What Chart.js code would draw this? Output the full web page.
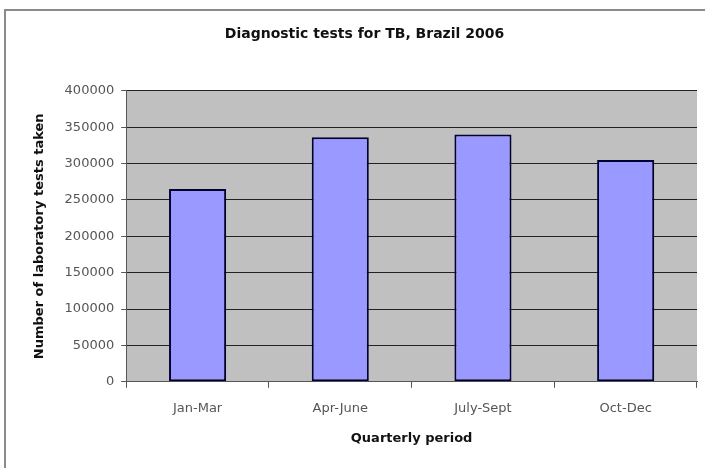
<!DOCTYPE html>
<html>
<head>
<meta charset="utf-8">
<script src="https://cdn.jsdelivr.net/npm/chart.js@4"></script>
<style>
  html, body { margin: 0; padding: 0; background: #fff; }
  #wrap { position: relative; width: 705px; height: 468px; overflow: hidden; }
  #moldura { position: absolute; left: 4px; top: 9px; width: 720px; height: 480px; border: 2px solid #8a8a8a; box-sizing: border-box; }
  #grafico { position: absolute; left: 0; top: 0; }
</style>
</head>
<body>
<div id="wrap">
  <div id="moldura"></div>
  <canvas id="grafico" width="705" height="468"></canvas>
</div>
<script>
var trimestres = ['Jan-Mar', 'Apr-June', 'July-Sept', 'Oct-Dec']
var qtdTestes = [265000, 336000, 340000, 305000]

var fundoPlot = {
    id: 'fundoPlot',
    beforeDraw: function (chart) {
        var ctx = chart.ctx
        var area = chart.chartArea
        ctx.save()
        ctx.fillStyle = '#c0c0c0'
        ctx.fillRect(area.left, area.top, area.right - area.left, area.bottom - area.top)
        ctx.restore()
    }
}

Chart.defaults.font.family = '"DejaVu Sans", Verdana, sans-serif'
Chart.defaults.color = '#444'

var config = {
    type: 'bar',
    data: {
        labels: trimestres,
        datasets: [{
            label: 'Testes',
            data: qtdTestes,
            backgroundColor: '#9999ff',
            borderColor: '#000033',
            borderWidth: 2,
            borderSkipped: false,
            categoryPercentage: 1,
            barPercentage: 0.4
        }]
    },
    options: {
        responsive: false,
        animation: false,
        layout: { padding: { left: 32, right: 8, top: 0, bottom: 18 } },
        plugins: {
            legend: { display: false },
            tooltip: { enabled: false },
            title: {
                display: true,
                text: 'Diagnostic tests for TB, Brazil 2006',
                color: '#111',
                font: { size: 14, weight: 'bold' },
                padding: { top: 26, bottom: 48 }
            }
        },
        scales: {
            x: {
                offset: true,
                grid: { display: true, drawOnChartArea: false, drawTicks: true, tickLength: 6, color: '#555', offset: true },
                border: { color: '#555', width: 1 },
                ticks: { color: '#555', font: { size: 13 }, padding: 13 },
                title: { display: true, text: 'Quarterly period', color: '#111', font: { size: 13, weight: 'bold' }, padding: { top: 1, bottom: 4 } }
            },
            y: {
                min: 0,
                max: 400000,
                ticks: {
                    stepSize: 50000,
                    color: '#555',
                    font: { size: 13 },
                    padding: 7,
                    callback: function (valor) { return String(valor) }
                },
                grid: { color: '#222', lineWidth: 1, tickLength: 5, tickColor: '#555' },
                border: { color: '#555', width: 1 },
                title: { display: true, text: 'Number of laboratory tests taken', color: '#111', font: { size: 13, weight: 'bold' }, padding: { top: 0, bottom: 10 } }
            }
        }
    },
    plugins: [fundoPlot]
}

var myChart = new Chart(document.getElementById('grafico'), config)
</script>
</body>
</html>
